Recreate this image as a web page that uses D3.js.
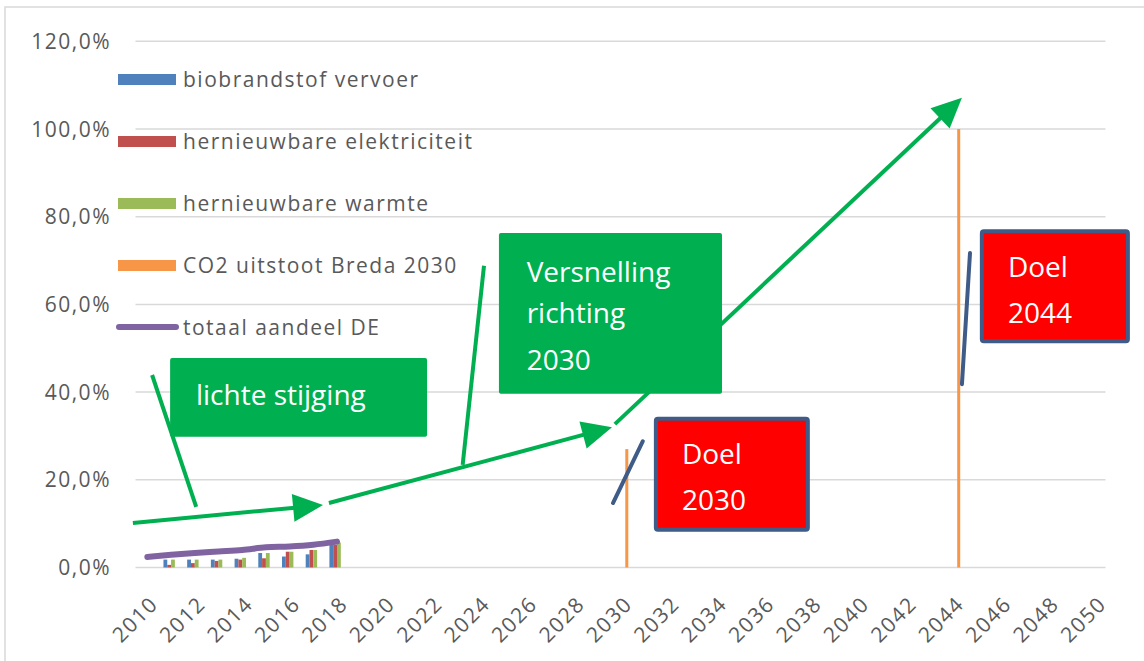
<!DOCTYPE html>
<html>
<head>
<meta charset="utf-8">
<script src="https://cdn.jsdelivr.net/npm/d3@7"></script>
<style>
  body { margin: 0; background: #fff; }
  svg { display: block; font-family: "Open Sans", sans-serif; }
  .lbl { fill: #595959; font-size: 21px; letter-spacing: 1.5px; }
  .box-text { fill: #fff; font-size: 28px; }
</style>
</head>
<body>
<svg id="chart" width="1144" height="661"></svg>
<script>
const width = 1144, height = 661;

// categories
const years = d3.range(2010, 2051);
const tickYears = years.filter(y => (y - 2010) % 2 === 0);
const yTicks = [0, 20, 40, 60, 80, 100, 120];

// series (percent), measured years 2010-2018
const dataYears = [2010, 2011, 2012, 2013, 2014, 2015, 2016, 2017, 2018];
const biobrandstof = [0, 1.8, 1.8, 1.8, 2.0, 3.3, 2.5, 3.0, 5.2];
const elektriciteit = [0, 0.6, 1.0, 1.5, 1.8, 2.1, 3.6, 4.0, 5.2];
const warmte = [0, 1.8, 1.8, 1.8, 2.2, 3.3, 3.6, 4.0, 5.7];
const totaal = [2.4, 2.9, 3.3, 3.65, 4.0, 4.6, 4.8, 5.2, 5.9];
// CO2 target bars
const co2Years = [2030, 2044];
const co2 = [27, 100];

const seriesNames = ["biobrandstof vervoer", "hernieuwbare elektriciteit", "hernieuwbare warmte", "CO2 uitstoot Breda 2030", "totaal aandeel DE"];
const seriesColors = ["#4f81bd", "#c0504d", "#9bbb59", "#f79646", "#8064a2"];

// annotations in data units (year, percent)
const greenArrows = [
  [[2009.39, 10.15], [2017.41, 14.25]],
  [[2017.66, 14.7], [2029.6, 32.0]],
  [[2029.72, 32.7], [2044.36, 107.1]]
];
const greenCallouts = [
  [[2010.2, 43.9], [2012.06, 13.8]],
  [[2024.2, 68.8], [2023.3, 23.4]]
];
const blueCallouts = [
  [[2029.64, 14.7], [2030.9, 28.8]],
  [[2044.36, 41.8], [2044.7, 71.7]]
];
const greenBoxes = [
  { x0: 2010.96, x1: 2021.8, y0: 47.8, y1: 29.8, lines: ["lichte stijging"], tx: 2012.05, ty: [37.0] },
  { x0: 2024.83, x1: 2034.24, y0: 76.3, y1: 39.6, lines: ["Versnelling", "richting", "2030"], tx: 2026.0, ty: [65.2, 55.8, 45.0] }
];
const redBoxes = [
  { x0: 2031.45, x1: 2037.86, y0: 33.9, y1: 8.6, lines: ["Doel", "2030"], tx: 2032.55, ty: [23.6, 13.1] },
  { x0: 2045.2, x1: 2051.36, y0: 76.7, y1: 51.6, lines: ["Doel", "2044"], tx: 2046.3, ty: [66.3, 55.8] }
];

const svg = d3.select("#chart");

// chart frame
svg.append("rect").attr("x", 5).attr("y", 7).attr("width", width + 10).attr("height", height + 10)
  .attr("fill", "none").attr("stroke", "#d9d9d9").attr("stroke-width", 1.5);

const plotL = 135.5, plotR = 1107.5, plotT = 41.3, plotB = 567.5;

const x = d3.scaleBand().domain(years).range([plotL, plotR]).padding(0);
const step = x.step();
const xc = d => x(d) + step / 2;
const xLin = d3.scaleLinear().domain([2010, 2050]).range([xc(2010), xc(2050)]);
const y = d3.scaleLinear().domain([0, 120]).range([plotB, plotT]);

// gridlines
svg.append("g").selectAll("line").data(yTicks).join("line")
  .attr("x1", plotL).attr("x2", plotR - 2)
  .attr("y1", d => y(d)).attr("y2", d => y(d))
  .attr("stroke", "#d9d9d9").attr("stroke-width", 1.5);

// y labels
const fmt = d => d3.format(".1f")(d).replace(".", ",") + "%";
svg.append("g").selectAll("text").data(yTicks).join("text")
  .attr("class", "lbl")
  .attr("x", 111).attr("y", d => y(d)).attr("dy", "0.36em")
  .attr("text-anchor", "end").text(fmt);

// x labels
svg.append("g").selectAll("text").data(tickYears).join("text")
  .attr("class", "lbl")
  .attr("text-anchor", "end")
  .attr("transform", d => `translate(${xc(d) + 12},${plotB + 38}) rotate(-45)`)
  .text(d => d);

// bars
const bw = 3.8;
const barSeries = [biobrandstof, elektriciteit, warmte];
barSeries.forEach((vals, i) => {
  svg.append("g").selectAll("rect").data(dataYears.map((yr, k) => ({ yr, v: vals[k] })).filter(d => d.v > 0)).join("rect")
    .attr("x", d => xc(d.yr) + (i - 1.5) * bw - bw / 2)
    .attr("width", bw)
    .attr("y", d => y(d.v))
    .attr("height", d => y(0) - y(d.v))
    .attr("fill", seriesColors[i]);
});
svg.append("g").selectAll("rect").data(co2Years.map((yr, k) => ({ yr, v: co2[k] }))).join("rect")
  .attr("x", d => xc(d.yr) + 1.5 * bw - bw / 2)
  .attr("width", bw - 0.8)
  .attr("y", d => y(d.v))
  .attr("height", d => y(0) - y(d.v))
  .attr("fill", seriesColors[3]);

// totaal line
const line = d3.line().x((d, k) => xc(dataYears[k])).y(d => y(d)).curve(d3.curveMonotoneX);
svg.append("path").datum(totaal).attr("d", line)
  .attr("fill", "none").attr("stroke", seriesColors[4]).attr("stroke-width", 6)
  .attr("stroke-linecap", "round").attr("stroke-linejoin", "round");

// legend
const leg = svg.append("g").selectAll("g").data(seriesNames).join("g")
  .attr("transform", (d, i) => `translate(0,${79 + i * 62})`);
leg.each(function(d, i) {
  const g = d3.select(this);
  if (i === 4) {
    g.append("line").attr("x1", 119).attr("x2", 176).attr("y1", 0).attr("y2", 0)
      .attr("stroke", seriesColors[i]).attr("stroke-width", 6).attr("stroke-linecap", "round");
  } else {
    g.append("rect").attr("x", 118).attr("y", -5).attr("width", 58).attr("height", 11).attr("fill", seriesColors[i]);
  }
  g.append("text").attr("class", "lbl").attr("x", 183).attr("dy", "0.36em").text(d);
});

const px = p => [xLin(p[0]), y(p[1])];

// green callout lines (behind boxes)
svg.append("g").selectAll("line").data(greenCallouts).join("line")
  .attr("x1", d => px(d[0])[0]).attr("y1", d => px(d[0])[1])
  .attr("x2", d => px(d[1])[0]).attr("y2", d => px(d[1])[1])
  .attr("stroke", "#00b050").attr("stroke-width", 4);

// green arrows
const arrowG = svg.append("g");
greenArrows.forEach(a => {
  const [x0, y0] = px(a[0]), [x1, y1] = px(a[1]);
  const ang = Math.atan2(y1 - y0, x1 - x0);
  const hl = 30, hw = 14;
  const bx = x1 - hl * Math.cos(ang), by = y1 - hl * Math.sin(ang);
  arrowG.append("line").attr("x1", x0).attr("y1", y0).attr("x2", bx + 2 * Math.cos(ang)).attr("y2", by + 2 * Math.sin(ang))
    .attr("stroke", "#00b050").attr("stroke-width", 4);
  const nx = -Math.sin(ang), ny = Math.cos(ang);
  arrowG.append("path")
    .attr("d", `M${x1},${y1}L${bx + nx * hw},${by + ny * hw}L${bx - nx * hw},${by - ny * hw}Z`)
    .attr("fill", "#00b050");
});

// green boxes
greenBoxes.forEach(b => {
  svg.append("rect").attr("x", xLin(b.x0)).attr("y", y(b.y0))
    .attr("width", xLin(b.x1) - xLin(b.x0)).attr("height", y(b.y1) - y(b.y0))
    .attr("rx", 2).attr("fill", "#00b050");
  b.lines.forEach((t, k) => {
    svg.append("text").attr("class", "box-text").attr("x", xLin(b.tx)).attr("y", y(b.ty[k])).text(t);
  });
});

// blue callout lines
svg.append("g").selectAll("line").data(blueCallouts).join("line")
  .attr("x1", d => px(d[0])[0]).attr("y1", d => px(d[0])[1])
  .attr("x2", d => px(d[1])[0]).attr("y2", d => px(d[1])[1])
  .attr("stroke", "#3f5b87").attr("stroke-width", 4).attr("stroke-linecap", "round");

// red target boxes
redBoxes.forEach(b => {
  svg.append("rect").attr("x", xLin(b.x0)).attr("y", y(b.y0))
    .attr("width", xLin(b.x1) - xLin(b.x0)).attr("height", y(b.y1) - y(b.y0))
    .attr("rx", 2).attr("fill", "#ff0000").attr("stroke", "#3f5b87").attr("stroke-width", 4);
  b.lines.forEach((t, k) => {
    svg.append("text").attr("class", "box-text").attr("x", xLin(b.tx)).attr("y", y(b.ty[k])).text(t);
  });
});
</script>
</body>
</html>
